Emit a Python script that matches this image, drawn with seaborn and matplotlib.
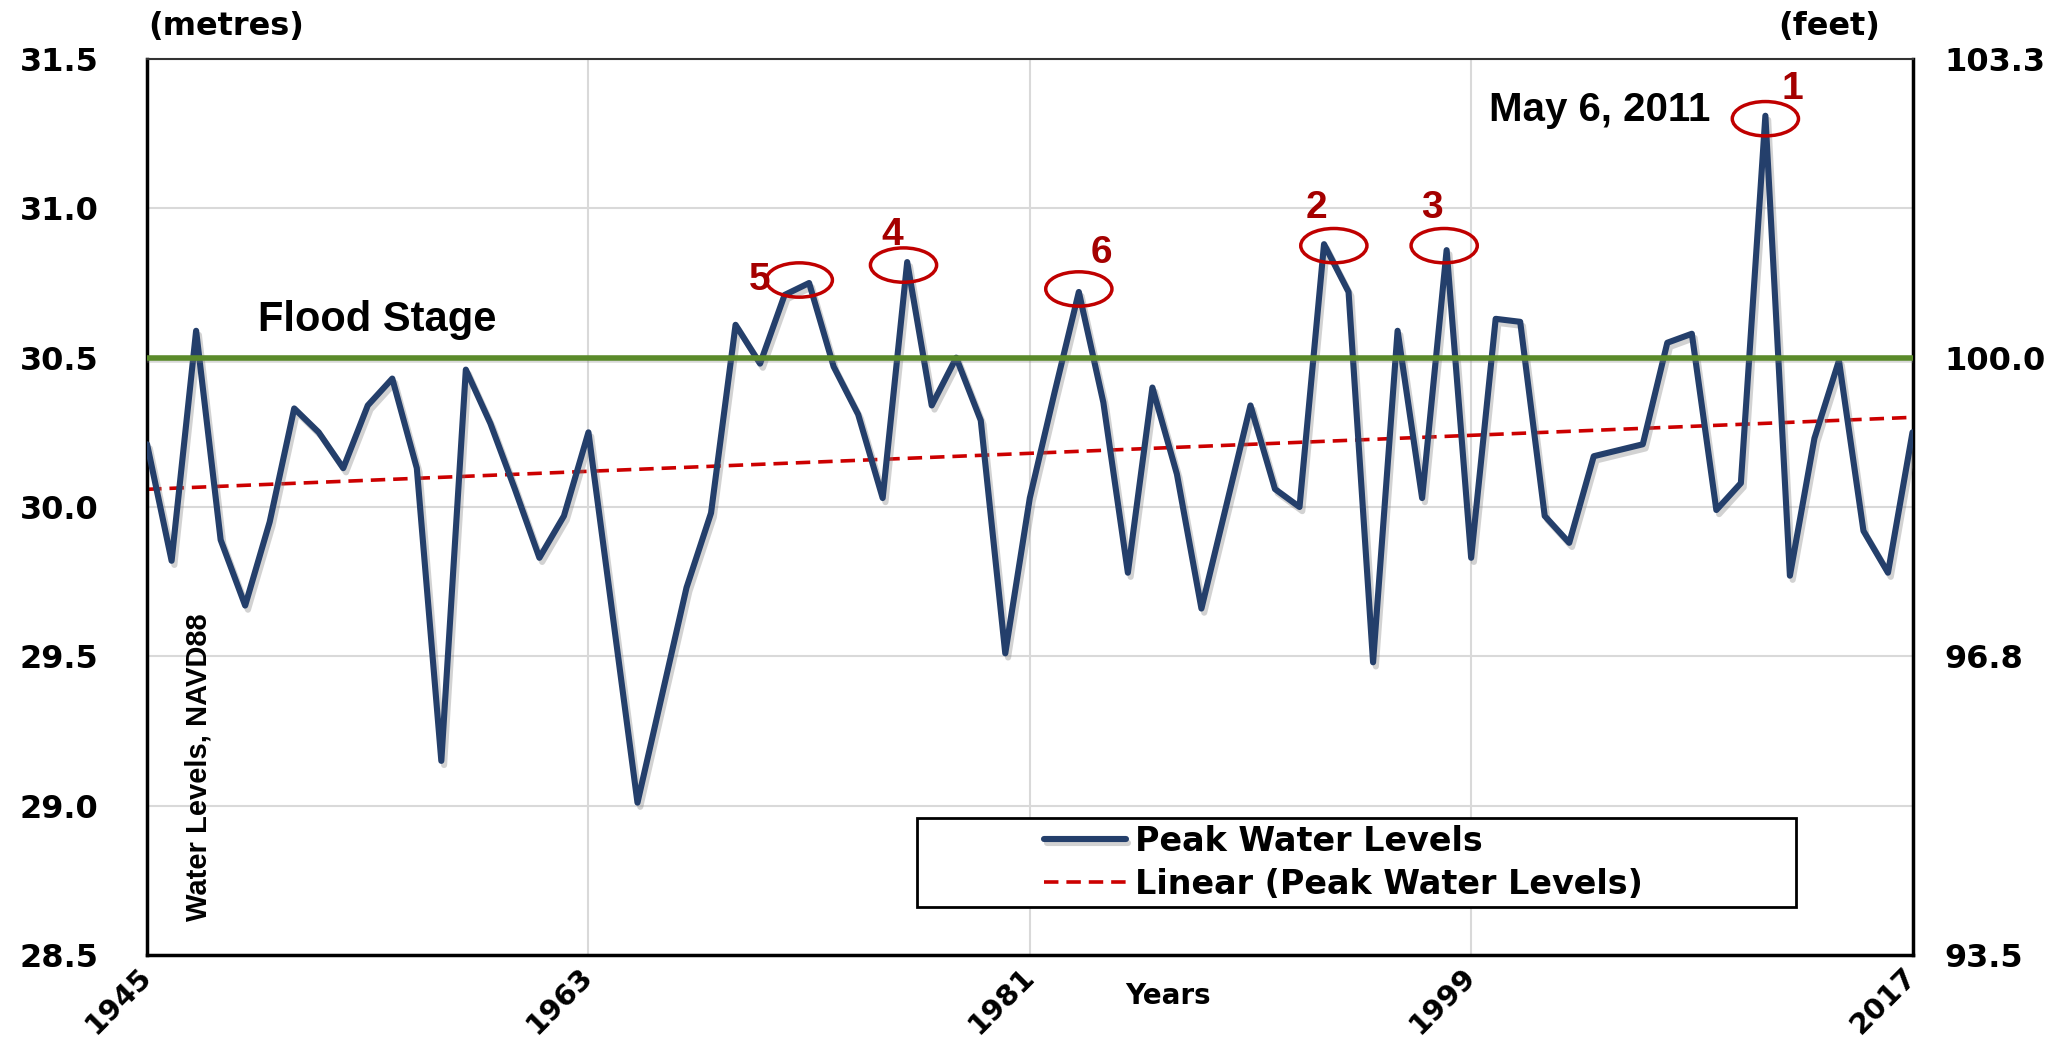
import numpy as np
import matplotlib
matplotlib.use('Agg')
import matplotlib.pyplot as plt
import matplotlib.patheffects as pe
from matplotlib.patches import Ellipse, Rectangle
from matplotlib.ticker import MultipleLocator
import seaborn as sns

# Peak annual water levels (metres, NAVD88)
years = list(range(1945, 2018))
levels = [30.21, 29.82, 30.59, 29.89, 29.67, 29.95, 30.33, 30.25, 30.13, 30.34,
          30.43, 30.13, 29.15, 30.46, 30.28, 30.06, 29.83, 29.97, 30.25,
          29.63, 29.01, 29.37, 29.73, 29.98, 30.61, 30.48, 30.71, 30.75, 30.47,
          30.31, 30.03, 30.82, 30.34, 30.50, 30.29, 29.51, 30.03,
          30.38, 30.72, 30.35, 29.78, 30.40, 30.11, 29.66, 30.00, 30.34, 30.06,
          30.00, 30.88, 30.72, 29.48, 30.59, 30.03, 30.86, 29.83,
          30.63, 30.62, 29.97, 29.88, 30.17, 30.19, 30.21, 30.55, 30.58, 29.99,
          30.08, 31.31, 29.77, 30.23, 30.49, 29.92, 29.78, 30.25]

flood_stage = 30.5
major_years = [1945, 1963, 1981, 1999, 2017]
metre_ticks = [28.5, 29.0, 29.5, 30.0, 30.5, 31.0, 31.5]
feet_ticks = [28.5, 29.5, 30.5, 31.5]
feet_labels = ['93.5', '96.8', '100.0', '103.3']

# ranked peaks: circle centre and number position
ranks = ['1', '2', '3', '4', '5', '6']
rank_x = [2011.0, 1993.4, 1997.9, 1975.85, 1971.6, 1983.0]
rank_y = [31.30, 30.875, 30.875, 30.81, 30.76, 30.73]
rank_lx = [2012.1, 1992.7, 1997.4, 1975.4, 1970.0, 1983.9]
rank_ly = [31.40, 31.00, 31.00, 30.91, 30.76, 30.85]

sns.set_style('white')
plt.rcParams['font.family'] = ['DejaVu Sans']
plt.rcParams['text.color'] = 'black'
plt.rcParams['xtick.color'] = 'black'
plt.rcParams['ytick.color'] = 'black'

fig = plt.figure(figsize=(20.6, 10.46), dpi=100)
ax = fig.add_axes([0.0714, 0.087, 0.857, 0.8566])

navy = '#243f6b'
red = '#cc0000'

sns.lineplot(x=years, y=levels, ax=ax, color=navy, lw=4.4, label='Peak Water Levels',
             path_effects=[pe.SimpleLineShadow(offset=(2, -3), shadow_color='gray', alpha=0.35),
                           pe.Normal()], zorder=3)
sns.regplot(x=years, y=levels, ax=ax, scatter=False, ci=None, truncate=True,
            label='Linear (Peak Water Levels)',
            line_kws=dict(color=red, lw=2.6, dashes=(4, 2.2), zorder=2))

ax.axhline(flood_stage, color='#5a8a2a', lw=4, zorder=4,
           path_effects=[pe.SimpleLineShadow(offset=(1, -2), shadow_color='gray', alpha=0.3),
                         pe.Normal()])

ax.set_xlim(1945, 2017)
ax.set_ylim(28.5, 31.5)
ax.set_xticks(major_years)
ax.xaxis.set_minor_locator(MultipleLocator(3))
ax.set_yticks(metre_ticks)
ax.grid(True, which='major', color='#d9d9d9', lw=1.5)
ax.set_axisbelow(True)

ax.tick_params(axis='y', length=0, pad=35, labelsize=23)
ax.tick_params(axis='x', which='major', direction='inout', length=16, width=2, pad=4, labelsize=21)
ax.tick_params(axis='x', which='minor', direction='in', length=8, width=2)
for lab in ax.get_yticklabels():
    lab.set_fontweight('bold')
for lab in ax.get_xticklabels():
    lab.set_fontweight('bold')
    lab.set_rotation(45)
    lab.set_ha('right')
    lab.set_va('center')
    lab.set_rotation_mode('anchor')

for side in ['left', 'bottom', 'right']:
    ax.spines[side].set_linewidth(2.5)
    ax.spines[side].set_color('black')
ax.spines['top'].set_linewidth(1.5)
ax.spines['top'].set_color('#333333')
ax.set_xlabel('')
ax.set_ylabel('')

ax2 = ax.twinx()
ax2.set_ylim(28.5, 31.5)
ax2.set_yticks(feet_ticks)
ax2.set_yticklabels(feet_labels, fontweight='bold', fontsize=23)
ax2.tick_params(axis='y', length=0, pad=23)
for s in ax2.spines.values():
    s.set_visible(False)

# legend: framed box with the entries shifted to the right inside it
ax.add_patch(Rectangle((0.436, 0.0536), 0.498, 0.0994, transform=ax.transAxes,
                       fc='white', ec='black', lw=2, zorder=9))
leg = ax.legend(loc='center left', bbox_to_anchor=(0.508, 0.1027), frameon=False,
                handlelength=2.45, handletextpad=0.27, borderpad=0, borderaxespad=0,
                labelspacing=0.3, prop=dict(weight='bold', size=24))
leg.set_zorder(10)

for r, x, y, lx, ly in zip(ranks, rank_x, rank_y, rank_lx, rank_ly):
    ax.add_patch(Ellipse((x, y), 2.7, 0.115, fill=False, ec='#c00000', lw=2.5, zorder=5))
    ax.text(lx, ly, r, color='#a50000', fontsize=28, fontweight='bold',
            family=['Liberation Sans', 'DejaVu Sans'], ha='center', va='center', zorder=6)

ax.text(1954.37, 30.625, 'Flood Stage', fontsize=30, fontweight='bold',
        family=['Liberation Sans', 'DejaVu Sans'], ha='center', va='center')
ax.text(2004.24, 31.33, 'May 6, 2011', fontsize=29, fontweight='bold',
        family=['Liberation Sans', 'DejaVu Sans'], ha='center', va='center')
ax.text(1947.1, 29.13, 'Water Levels, NAVD88', rotation=90, fontsize=21, fontweight='bold',
        family=['Liberation Sans Narrow', 'Liberation Sans', 'DejaVu Sans'],
        ha='center', va='center')

fig.text(0.1097, 0.975, '(metres)', fontsize=23, fontweight='bold', ha='center', va='center')
fig.text(0.888, 0.975, '(feet)', fontsize=23, fontweight='bold', ha='center', va='center')
fig.text(0.567, 0.048, 'Years', fontsize=20, fontweight='bold', ha='center', va='center')

fig.savefig('out.png', dpi=100)
